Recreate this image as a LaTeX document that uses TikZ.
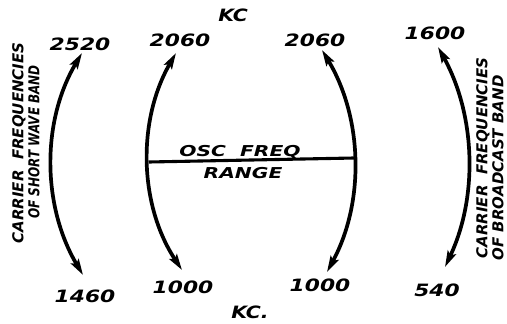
\documentclass[tikz,border=0pt]{standalone}
\usepackage{fontspec}
\setmainfont{DejaVu Sans}
\usetikzlibrary{arrows.meta}
\tikzset{
  arcline/.style={line width=3.7pt, {Stealth[length=16pt,width=9pt,inset=3pt]}-{Stealth[length=16pt,width=9pt,inset=3pt]}},
  rangeline/.style={line width=3.1pt},
  num/.style={font=\fontsize{17}{19}\selectfont\bfseries\itshape, xscale=1.28, inner sep=0pt},
  lbl/.style={font=\fontsize{15}{17}\selectfont\bfseries\itshape, xscale=1.35, inner sep=0pt},
  kc/.style={font=\fontsize{17}{19}\selectfont\bfseries\itshape, xscale=1.2, inner sep=0pt},
  side/.style={font=\fontsize{15}{17}\selectfont\itshape\bfseries, rotate=90, inner sep=0pt}
}
\begin{document}
\begin{tikzpicture}[x=1pt,y=-1pt]
\useasboundingbox[fill=white] (0,0) rectangle (507,324);
% arc end points
\coordinate (aT) at (82,53);   \coordinate (aB) at (83,275);
\coordinate (bT) at (176,53);  \coordinate (bB) at (182,270);
\coordinate (cT) at (322,50);  \coordinate (cB) at (327,272);
\coordinate (dT) at (438,47);  \coordinate (dB) at (445,267);
\coordinate (bM) at (149,162); \coordinate (cM) at (354,158);
% arcs (circular)
\draw[arcline] (aB) .. controls (42.2,206.5) and (41.2,121.5) .. (aT);
\draw[arcline] (bB) .. controls (139.0,205.1) and (137.0,120.6) .. (bT);
\draw[arcline] (cB) .. controls (364.8,202.3) and (362.9,118) .. (cT);
\draw[arcline] (dB) .. controls (478.2,196.8) and (475.6,114.9) .. (dT);
\draw[rangeline] (bM) -- (cM);
% labels
\node[num] (n2520) at (80,44) {2520};
\node[num] (n1460) at (85,296) {1460};
\node[num] (n2060a) at (180,40) {2060};
\node[num] (n2060b) at (315,40) {2060};
\node[num] (n1000a) at (183,287) {1000};
\node[num] (n1000b) at (320,285) {1000};
\node[num] (n1600) at (435,33) {1600};
\node[num] (n540) at (437,290) {540};
\node[kc] (kctop) at (233,15) {KC};
\node[kc] (kcbot) at (250,312) {KC.};
\node[lbl] (osc) at (240,152) {OSC\ \ FREQ};
\node[lbl] (range) at (243,173) {RANGE};
\node[side] (sw1) at (19,143) {CARRIER\ \ FREQUENCIES};
\node[side] (sw2) at (34,142) {\scalebox{0.8}[1]{OF SHORT WAVE BAND}};
\node[side] (bc1) at (483,158) {CARRIER\ \ FREQUENCIES};
\node[side] (bc2) at (498,168) {OF BROADCAST BAND};
\end{tikzpicture}
\end{document}
